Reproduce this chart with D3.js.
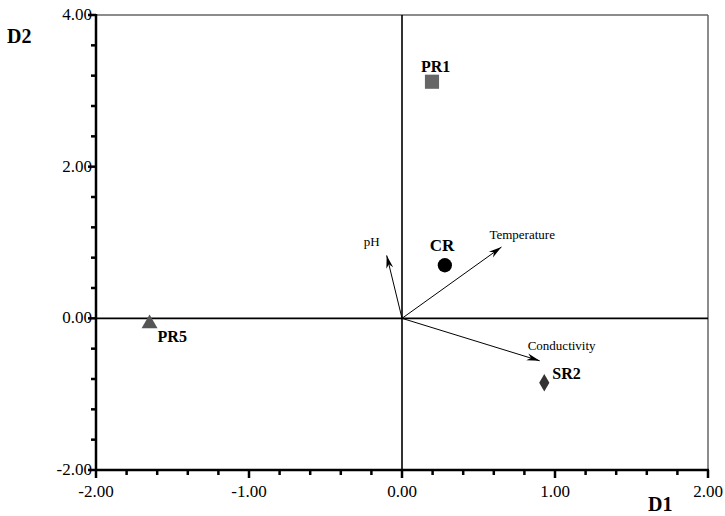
<!DOCTYPE html>
<html><head><meta charset="utf-8">
<script src="https://cdn.jsdelivr.net/npm/d3@7"></script>
<style>body{margin:0;background:#fff}svg{display:block}</style>
</head><body><svg id="c" width="725" height="516" font-family="'Liberation Serif', 'Times New Roman', 'DejaVu Serif', serif"></svg>
<script>
const sites = ["PR1","CR","PR5","SR2"];
const siteD1 = [0.196, 0.28, -1.65, 0.93];
const siteD2 = [3.12, 0.70, -0.07, -0.85];
const siteShape = ["square","circle","triangle","diamond"];
const siteColor = ["#666666","#000000","#555555","#333333"];
const vars = ["pH","Temperature","Conductivity"];
const varD1 = [-0.10, 0.65, 0.90];
const varD2 = [0.83, 0.94, -0.56];
const xTicks = [-2, -1, 0, 1, 2];
const yTicks = [-2, 0, 2, 4];

const svg = d3.select("#c");
const L=96,R=708,T=15,B=470;
const x = d3.scaleLinear().domain([-2,2]).range([L,R]);
const y = d3.scaleLinear().domain([-2,4]).range([B,T]);
const fmt = d => d3.format(".2f")(d).replace("\u2212","-");

// top & right border
svg.append("line").attr("x1",L).attr("x2",R).attr("y1",T).attr("y2",T).attr("stroke","#666").attr("stroke-width",1.5);
svg.append("line").attr("x1",R).attr("x2",R).attr("y1",T).attr("y2",B).attr("stroke","#666").attr("stroke-width",1.5);
// zero lines
svg.append("line").attr("x1",L).attr("x2",R).attr("y1",y(0)).attr("y2",y(0)).attr("stroke","#000").attr("stroke-width",1.6);
svg.append("line").attr("x1",x(0)).attr("x2",x(0)).attr("y1",T).attr("y2",B).attr("stroke","#000").attr("stroke-width",1.6);

// x axis
const xMinor = d3.range(0,21).map(i=>-2+i*0.2);
xMinor.forEach(d=>{
  const major = Math.abs(d-Math.round(d))<1e-6;
  svg.append("line").attr("x1",x(d)).attr("x2",x(d)).attr("y1",B).attr("y2",B+(major?8:5))
    .attr("stroke","#000").attr("stroke-width",2.5);
});
svg.append("line").attr("x1",L-1).attr("x2",R+1).attr("y1",B).attr("y2",B).attr("stroke","#000").attr("stroke-width",2.5);
xTicks.forEach(d=>{
  svg.append("text").attr("x",x(d)).attr("y",B+27).attr("text-anchor","middle").attr("font-size",17)
    .text(fmt(d));
});

// y axis
const yMinor = d3.range(0,16).map(i=>-2+i*0.4);
yMinor.forEach(d=>{
  const major = Math.abs(d/2-Math.round(d/2))<1e-6;
  svg.append("line").attr("y1",y(d)).attr("y2",y(d)).attr("x1",L).attr("x2",L-(major?8:5))
    .attr("stroke","#000").attr("stroke-width",2.5);
});
svg.append("line").attr("x1",L).attr("x2",L).attr("y1",T-1).attr("y2",B+1).attr("stroke","#000").attr("stroke-width",2.5);
yTicks.forEach(d=>{
  svg.append("text").attr("x",L-4).attr("y",y(d)+5).attr("text-anchor","end").attr("font-size",17)
    .text(fmt(d));
});

// axis titles
svg.append("text").attr("x",7).attr("y",43).attr("font-size",20).attr("font-weight","bold").text("D2");
svg.append("text").attr("x",648).attr("y",511).attr("font-size",20).attr("font-weight","bold").text("D1");

// arrows
vars.forEach((v,i)=>{
  const x0=x(0),y0=y(0),x1=x(varD1[i]),y1=y(varD2[i]);
  const ang=Math.atan2(y1-y0,x1-x0);
  svg.append("line").attr("x1",x0).attr("y1",y0).attr("x2",x1).attr("y2",y1).attr("stroke","#000").attr("stroke-width",1);
  const hl=13, hw=3.5;
  const p=(a,b)=>[x1+a*Math.cos(ang)-b*Math.sin(ang), y1+a*Math.sin(ang)+b*Math.cos(ang)];
  const pts=[p(0,0),p(-hl,hw),p(-hl*0.7,0),p(-hl,-hw)];
  svg.append("path").attr("d","M"+pts.map(q=>q.join(",")).join("L")+"Z").attr("fill","#000");
});
const varLab = [[-23,-9],[-12,-8],[-12,-11]];
vars.forEach((v,i)=>{
  svg.append("text").attr("x",x(varD1[i])+varLab[i][0]).attr("y",y(varD2[i])+varLab[i][1]).attr("font-size",13).text(v);
});

// site markers
const sym = {square:d3.symbolSquare,circle:d3.symbolCircle,triangle:d3.symbolTriangle,diamond:d3.symbolDiamond};
const symSize = {square:200,circle:160,triangle:110,diamond:90};
sites.forEach((s,i)=>{
  svg.append("path").attr("d",d3.symbol().type(sym[siteShape[i]]).size(symSize[siteShape[i]])())
    .attr("transform",`translate(${x(siteD1[i])},${y(siteD2[i])})`).attr("fill",siteColor[i]);
});
const siteLab = [[-11,-10,"bold",16],[-15,-14,"bold",17],[8,18,"bold",16],[8,-4,"bold",16]];
sites.forEach((s,i)=>{
  svg.append("text").attr("x",x(siteD1[i])+siteLab[i][0]).attr("y",y(siteD2[i])+siteLab[i][1])
    .attr("font-size",siteLab[i][3]).attr("font-weight",siteLab[i][2]).text(s);
});
</script></body></html>
